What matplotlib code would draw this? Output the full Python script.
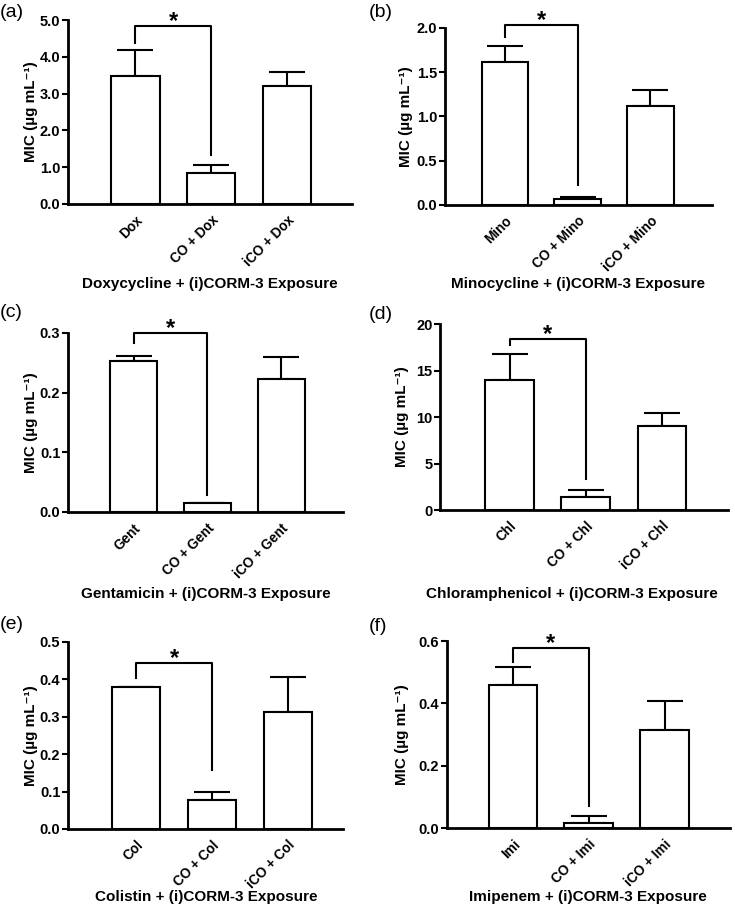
import matplotlib
matplotlib.use("Agg")
import matplotlib.pyplot as plt

plt.rcParams["font.family"] = ["Liberation Sans", "DejaVu Sans"]
plt.rcParams["font.weight"] = "bold"

# ---- data --------------------------------------------------------------------
panel_tags = ["(a)", "(b)", "(c)", "(d)", "(e)", "(f)"]
drugs = ["Doxycycline", "Minocycline", "Gentamicin", "Chloramphenicol", "Colistin", "Imipenem"]
short = ["Dox", "Mino", "Gent", "Chl", "Col", "Imi"]

mic_mean = [
    [3.48, 0.85, 3.22],
    [1.62, 0.07, 1.12],
    [0.253, 0.015, 0.223],
    [14.0, 1.4, 9.0],
    [0.38, 0.077, 0.313],
    [0.46, 0.016, 0.313],
]
mic_err = [
    [0.72, 0.20, 0.38],
    [0.18, 0.02, 0.18],
    [0.009, 0.0, 0.037],
    [2.8, 0.8, 1.4],
    [0.0, 0.023, 0.094],
    [0.058, 0.022, 0.094],
]
y_max = [5.0, 2.0, 0.3, 20, 0.5, 0.6]
y_step = [1.0, 0.5, 0.1, 5, 0.1, 0.2]
y_fmt = ["{:.1f}", "{:.1f}", "{:.1f}", "{:.0f}", "{:.1f}", "{:.1f}"]

# significance bracket: height, left leg end, right leg end
bracket_top = [4.84, 2.03, 0.30, 18.4, 0.444, 0.578]
bracket_left = [4.37, 1.90, 0.283, 17.8, 0.404, 0.533]
bracket_right = [1.33, 0.23, 0.028, 3.3, 0.158, 0.07]

# ---- layout (figure fractions) -------------------------------------------------
axes_rects = [
    [0.0925, 0.778, 0.3865, 0.200],
    [0.605, 0.7767, 0.364, 0.1928],
    [0.0925, 0.4423, 0.3745, 0.195],
    [0.599, 0.4444, 0.391, 0.2026],
    [0.0925, 0.097, 0.3745, 0.2037],
    [0.608, 0.098, 0.385, 0.2037],
]
x_lims = [(-0.89, 2.86), (-0.83, 2.85), (-0.89, 2.84), (-0.91, 2.86), (-0.9, 2.73), (-0.87, 2.86)]
tag_pos = [(0.0, 0.986), (0.502, 0.986), (0.0, 0.66), (0.502, 0.657), (0.0, 0.32), (0.502, 0.317)]
ylabel_x = [0.052, 0.562, 0.052, 0.557, 0.052, 0.556]
xlabel_pos = [(0.286, 0.6983), (0.786, 0.6983), (0.28, 0.3606), (0.778, 0.3606),
              (0.28, 0.0305), (0.80, 0.0305)]

fig = plt.figure(figsize=(7.35, 9.18), dpi=100)

for i in range(6):
    ax = fig.add_axes(axes_rects[i])
    x = [0, 1, 2]
    ax.errorbar(x, mic_mean[i], yerr=[[0, 0, 0], mic_err[i]], fmt="none",
                ecolor="black", elinewidth=1.5, capsize=13, capthick=1.5, zorder=1)
    ax.bar(x, mic_mean[i], width=0.64, color="white", edgecolor="black",
           linewidth=1.5, zorder=2)

    # bracket with star
    h = bracket_top[i]
    ax.plot([0, 0, 1, 1], [bracket_left[i], h, h, bracket_right[i]],
            color="black", lw=1.5, clip_on=False, zorder=3)
    ax.annotate("*", xy=(0.5, h), xytext=(0, -5), textcoords="offset points",
                ha="center", va="bottom", fontsize=17, fontweight="bold",
                annotation_clip=False)

    ax.set_xlim(*x_lims[i])
    ax.set_ylim(0, y_max[i])
    n = int(round(y_max[i] / y_step[i]))
    ticks = [k * y_step[i] for k in range(n + 1)]
    ax.set_yticks(ticks)
    ax.set_yticklabels([y_fmt[i].format(t) for t in ticks], fontsize=10.5, fontweight="bold")

    labels = [short[i], "CO + " + short[i], "iCO + " + short[i]]
    ax.set_xticks(x)
    ax.set_xticklabels(labels, rotation=45, ha="right", rotation_mode="anchor",
                       fontsize=9.8, fontweight="bold")
    ax.tick_params(axis="x", length=0, pad=6.5)
    ax.tick_params(axis="y", length=4, width=1.5, pad=1.5)

    for side in ["top", "right"]:
        ax.spines[side].set_visible(False)
    for side in ["left", "bottom"]:
        ax.spines[side].set_linewidth(2)

    ax.set_ylabel("MIC (µg mL⁻¹)", fontsize=11, fontweight="bold")
    ax.yaxis.set_label_coords(ylabel_x[i], 0.5, transform=fig.transFigure)
    ax.yaxis.label.set_y(axes_rects[i][1] + axes_rects[i][3] / 2)
    ax.set_xlabel(drugs[i] + " + (i)CORM-3 Exposure", fontsize=11, fontweight="bold")
    ax.xaxis.set_label_coords(xlabel_pos[i][0], xlabel_pos[i][1], transform=fig.transFigure)

    fig.text(tag_pos[i][0], tag_pos[i][1], panel_tags[i], fontsize=14,
             fontweight="normal", ha="left", va="center")

fig.savefig("out.png", dpi=100)
